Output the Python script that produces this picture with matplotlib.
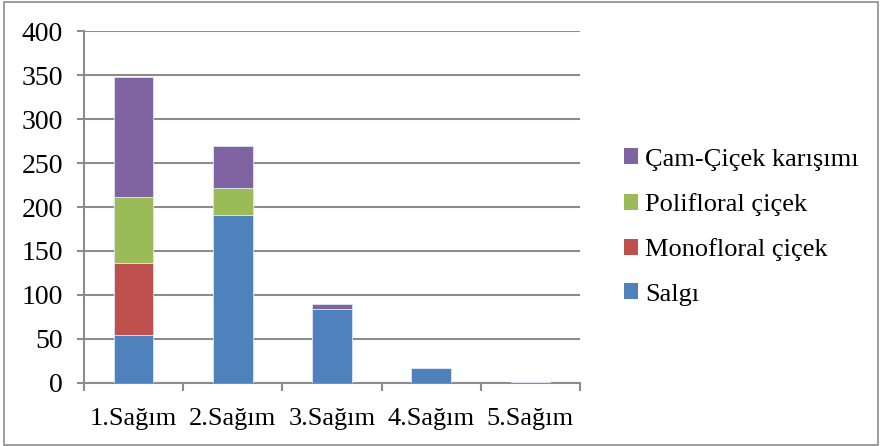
import numpy as np
import matplotlib
matplotlib.use("Agg")
import matplotlib.pyplot as plt
from matplotlib.patches import Rectangle, Patch

plt.rcParams['font.family'] = ['Liberation Serif', 'DejaVu Serif']

# milking rounds and honey types per round
categories = ["1.Sağım", "2.Sağım", "3.Sağım", "4.Sağım", "5.Sağım"]
salgi = [55, 191, 84, 17, 1]
monofloral = [81, 0, 0, 0, 0]
polifloral = [75, 31, 0, 0, 0]
cam_cicek = [137, 47, 6, 0, 0]

series_names = ["Salgı", "Monofloral çiçek", "Polifloral çiçek", "Çam-Çiçek karışımı"]
series_colors = ["#4F81BD", "#C0504D", "#9BBB59", "#8064A2"]

grid_col = "#8c8c8c"

fig = plt.figure(figsize=(8.81, 4.46), dpi=100)
ax = fig.add_axes([84/881, 63/446, 496/881, 352/446])

x = np.arange(len(categories))
bottom = np.zeros(len(categories))
for vals, name, col in zip([salgi, monofloral, polifloral, cam_cicek], series_names, series_colors):
    ax.bar(x, vals, width=0.4, bottom=bottom, color=col, label=name,
           edgecolor="#dce6f2", linewidth=0.6, zorder=3)
    bottom += np.array(vals)

ax.set_xlim(-0.5, len(categories) - 0.5)
ax.set_ylim(0, 400)
ax.set_yticks(np.arange(0, 401, 50))
ax.set_xticks(x)
ax.set_xticklabels(categories)
ax.set_xticks(np.arange(-0.5, len(categories)), minor=True)

ax.yaxis.grid(True, color=grid_col, linewidth=1.5, zorder=0)
ax.set_axisbelow(True)
for s in ["top", "right"]:
    ax.spines[s].set_visible(False)
for s in ["left", "bottom"]:
    ax.spines[s].set_color(grid_col)
    ax.spines[s].set_linewidth(1.5)

ax.tick_params(axis="y", length=5, width=1.5, color=grid_col, pad=10, labelsize=20)
ax.tick_params(axis="x", which="major", length=0, pad=18, labelsize=19)
ax.tick_params(axis="x", which="minor", length=6, width=1.5, color=grid_col)

handles = [Patch(facecolor=c) for c in series_colors][::-1]
fig.legend(handles, series_names[::-1], loc="center left",
           bbox_to_anchor=(600/881, 1 - 227/446), frameon=False,
           fontsize=19, handlelength=0.55, handleheight=0.55,
           handletextpad=0.25, labelspacing=0.84)

# chart border
fig.patches.append(Rectangle((4/881, 1/446), 874/881, 443/446, transform=fig.transFigure,
                             fill=False, edgecolor="#8c8c8c", linewidth=1.2))

fig.savefig("out.png", dpi=100)
